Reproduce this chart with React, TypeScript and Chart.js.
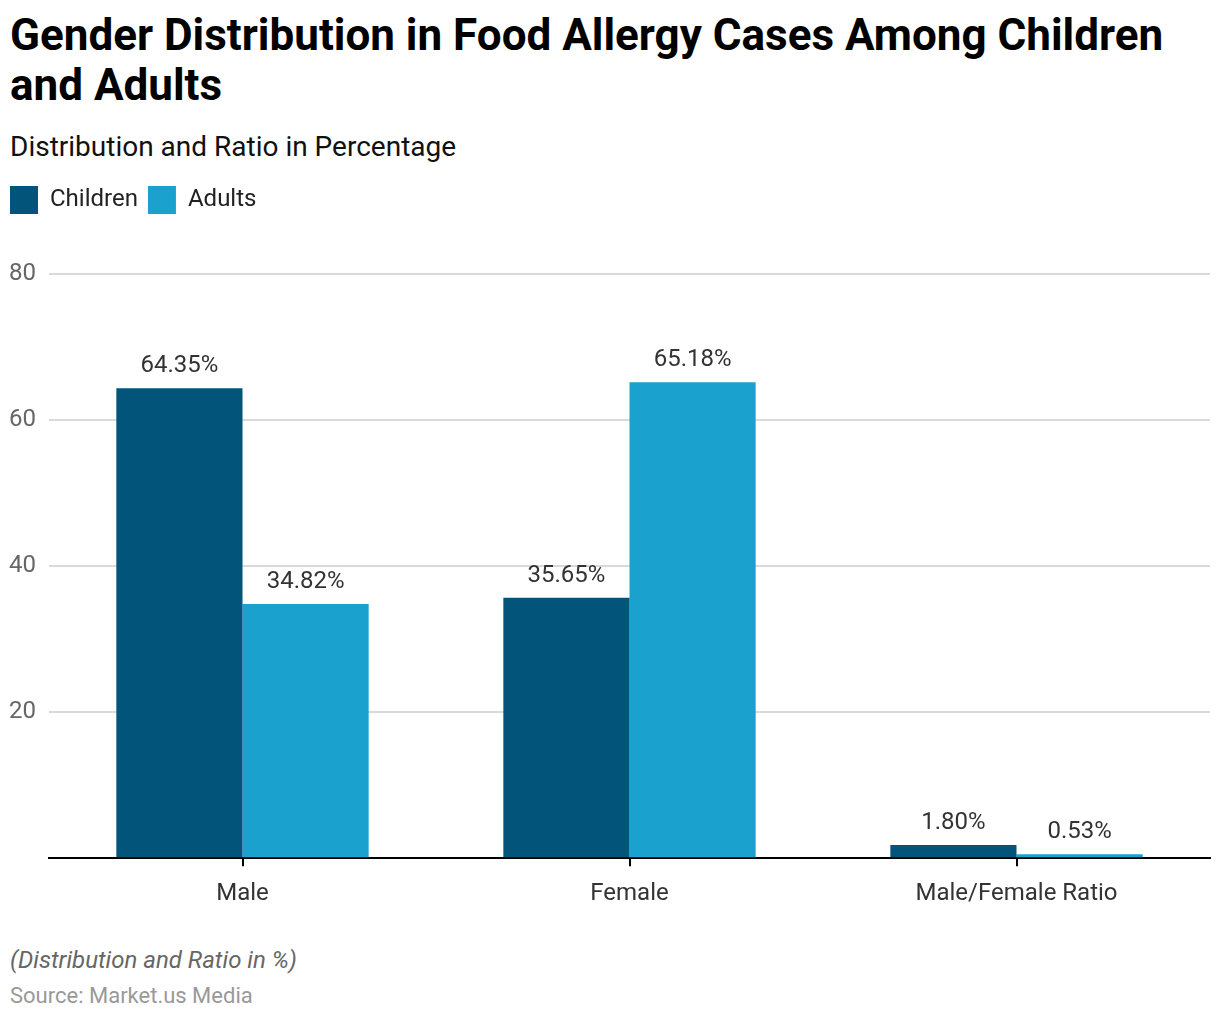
import React, { useEffect, useRef } from "react";
import { Chart, registerables } from "chart.js";

Chart.register(...registerables);

const categories = ["Male", "Female", "Male/Female Ratio"];
const childrenValues = [64.35, 35.65, 1.8];
const adultsValues = [34.82, 65.18, 0.53];
const yTicks = [0, 20, 40, 60, 80];

const FONT = "Roboto, 'Noto Sans', sans-serif";

const valueLabels = {
  id: "valueLabels",
  afterDatasetsDraw(chart: any) {
    const ctx = chart.ctx;
    ctx.save();
    ctx.font = `24px ${FONT}`;
    ctx.fillStyle = "#333333";
    ctx.textAlign = "center";
    ctx.textBaseline = "alphabetic";
    chart.data.datasets.forEach((ds: any, di: number) => {
      const meta = chart.getDatasetMeta(di);
      meta.data.forEach((bar: any, i: number) => {
        const v = ds.data[i] as number;
        ctx.fillText(v.toFixed(2) + "%", bar.x, bar.y - 16);
      });
    });
    ctx.restore();
  },
};

const legendGap = {
  id: "legendGap",
  beforeInit(chart: any) {
    const lg = chart.legend;
    if (!lg) return;
    const origFit = lg.fit;
    lg.fit = function () {
      origFit.call(this);
      this.height += 50;
    };
  },
};

export default function App() {
  const ref = useRef<HTMLCanvasElement>(null);
  useEffect(() => {
    if (!ref.current) return;
    const chart = new Chart(ref.current, {
      type: "bar",
      data: {
        labels: categories,
        datasets: [
          { label: "Children", data: childrenValues, backgroundColor: "#02547B" },
          { label: "Adults", data: adultsValues, backgroundColor: "#1AA1CE" },
        ],
      },
      options: {
        animation: false,
        responsive: false,
        maintainAspectRatio: false,
        devicePixelRatio: 1,
        layout: { padding: { left: 0, right: 10, top: 0, bottom: 7 } },
        datasets: { bar: { barPercentage: 1, categoryPercentage: 0.652 } },
        plugins: {
          tooltip: { enabled: false },
          legend: {
            position: "top",
            align: "start",
            labels: {
              boxWidth: 28,
              boxHeight: 28,
              padding: 10,
              color: "#222222",
              font: { family: FONT, size: 24 },
            },
          },
        },
        scales: {
          x: {
            grid: { display: true, drawOnChartArea: false, drawTicks: true, tickLength: 8, color: "#000000", lineWidth: 2, offset: false },
            border: { display: true, color: "#000000", width: 2 },
            ticks: { color: "#333333", font: { family: FONT, size: 24 }, padding: 13 },
          },
          y: {
            min: 0,
            max: 80,
            afterBuildTicks: (scale: any) => {
              scale.ticks = yTicks.map((v) => ({ value: v }));
            },
            afterFit: (scale: any) => {
              scale.width = 49;
            },
            grid: { color: "#d9d9d9", lineWidth: 2, drawTicks: false },
            border: { display: false },
            ticks: {
              color: "#666666",
              font: { family: FONT, size: 24 },
              padding: 13,
              crossAlign: "near",
              callback: (v: any) => (v === 0 ? "" : String(v)),
            },
          },
        },
      },
      plugins: [valueLabels, legendGap],
    });
    return () => chart.destroy();
  }, []);

  return (
    <div style={{ position: "fixed", left: 0, top: 0, width: 1220, height: 1020, background: "#fff", fontFamily: FONT }}>
      <div style={{ position: "absolute", left: 10, top: 10, fontSize: 44, fontWeight: 700, lineHeight: "50px", color: "#000", width: 1210 }}>
        Gender Distribution in Food Allergy Cases Among Children<br />and Adults
      </div>
      <div style={{ position: "absolute", left: 10, top: 130, fontSize: 28, lineHeight: "34px", color: "#111" }}>
        Distribution and Ratio in Percentage
      </div>
      <canvas ref={ref} width={1220} height={752} style={{ position: "absolute", left: 0, top: 176, width: 1220, height: 752 }} />
      <div style={{ position: "absolute", left: 10, top: 944, fontSize: 24, fontStyle: "italic", color: "#666", lineHeight: "32px" }}>
        (Distribution and Ratio in %)
      </div>
      <div style={{ position: "absolute", left: 10, top: 982, fontSize: 22, color: "#999", lineHeight: "28px" }}>
        Source: Market.us Media
      </div>
    </div>
  );
}
